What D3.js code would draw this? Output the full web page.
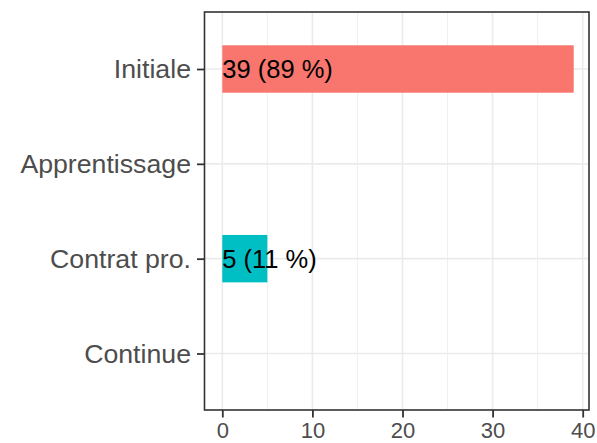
<!DOCTYPE html>
<html>
  <head>
    <script src="https://cdnjs.cloudflare.com/ajax/libs/d3/7.8.5/d3.min.js"></script>
    <style>
      body { margin: 0; background: #fff; }
      text { font-family: "Liberation Sans", Arial, sans-serif; }
    </style>
  </head>
  <body>
    <div id="vis"></div>
    <script type="text/javascript">

        const categories = ["Initiale", "Apprentissage", "Contrat pro.", "Continue"];
        const counts = [39, 0, 5, 0];
        const labels = ["39 (89 %)", "", "5 (11 %)", ""];
        const colors = ["#F8766D", null, "#00BFC4", null];
        const xTicks = [0, 10, 20, 30, 40];

        const width = 597, height = 443;
        const panel = {left: 204.5, right: 589, top: 12, bottom: 410};

        const svg = d3.select("#vis")
            .append("svg")
            .attr("width", width)
            .attr("height", height);

        // 0 -> 222.3, 40 -> 582.7
        const x = d3.scaleLinear()
            .domain([0, 40])
            .range([222.3, 582.7]);

        const y = d3.scalePoint()
            .domain(categories)
            .range([69, 353.5]);
        const step = y.step();
        const barH = step * 0.5;

        // grid
        const minor = d3.range(5, 41, 10);
        svg.append("g").selectAll("line")
            .data(minor)
            .join("line")
            .attr("x1", d => x(d)).attr("x2", d => x(d))
            .attr("y1", panel.top).attr("y2", panel.bottom)
            .attr("stroke", "#EBEBEB").attr("stroke-width", 0.8);
        svg.append("g").selectAll("line")
            .data(xTicks)
            .join("line")
            .attr("x1", d => x(d)).attr("x2", d => x(d))
            .attr("y1", panel.top).attr("y2", panel.bottom)
            .attr("stroke", "#EBEBEB").attr("stroke-width", 1.6);
        svg.append("g").selectAll("line")
            .data(categories)
            .join("line")
            .attr("x1", panel.left).attr("x2", panel.right)
            .attr("y1", d => y(d)).attr("y2", d => y(d))
            .attr("stroke", "#EBEBEB").attr("stroke-width", 1.6);

        // bars
        const data = categories.map((c, i) => ({cat: c, n: counts[i], label: labels[i], color: colors[i]}));
        svg.append("g").selectAll("rect")
            .data(data.filter(d => d.n > 0))
            .join("rect")
            .attr("x", x(0))
            .attr("y", d => y(d.cat) - barH / 2)
            .attr("width", d => x(d.n) - x(0))
            .attr("height", barH)
            .attr("fill", d => d.color);

        svg.append("g").selectAll("text")
            .data(data.filter(d => d.label))
            .join("text")
            .attr("x", x(0))
            .attr("y", d => y(d.cat))
            .attr("dy", "0.35em")
            .attr("font-size", 25.5)
            .attr("fill", "#000")
            .text(d => d.label);

        // panel border
        svg.append("rect")
            .attr("x", panel.left).attr("y", panel.top)
            .attr("width", panel.right - panel.left)
            .attr("height", panel.bottom - panel.top)
            .attr("fill", "none")
            .attr("stroke", "#333333")
            .attr("stroke-width", 1.6);

        // axes
        const xAxis = svg.append("g")
            .attr("transform", `translate(0,${panel.bottom})`)
            .call(d3.axisBottom(x).tickValues(xTicks).tickSize(7.5).tickPadding(5));
        const yAxis = svg.append("g")
            .attr("transform", `translate(${panel.left},0)`)
            .call(d3.axisLeft(y).tickSize(7.5).tickPadding(6));

        [xAxis, yAxis].forEach(g => {
            g.select(".domain").remove();
            g.selectAll(".tick line").attr("stroke", "#333333").attr("stroke-width", 1.8);
            g.selectAll(".tick text")
                .attr("fill", "#4D4D4D")
                .style("font-family", "'Liberation Sans', Arial, sans-serif");
        });
        xAxis.selectAll(".tick text").attr("font-size", 22);
        yAxis.selectAll(".tick text").attr("font-size", 26.7);

    </script>
  </body>
</html>
